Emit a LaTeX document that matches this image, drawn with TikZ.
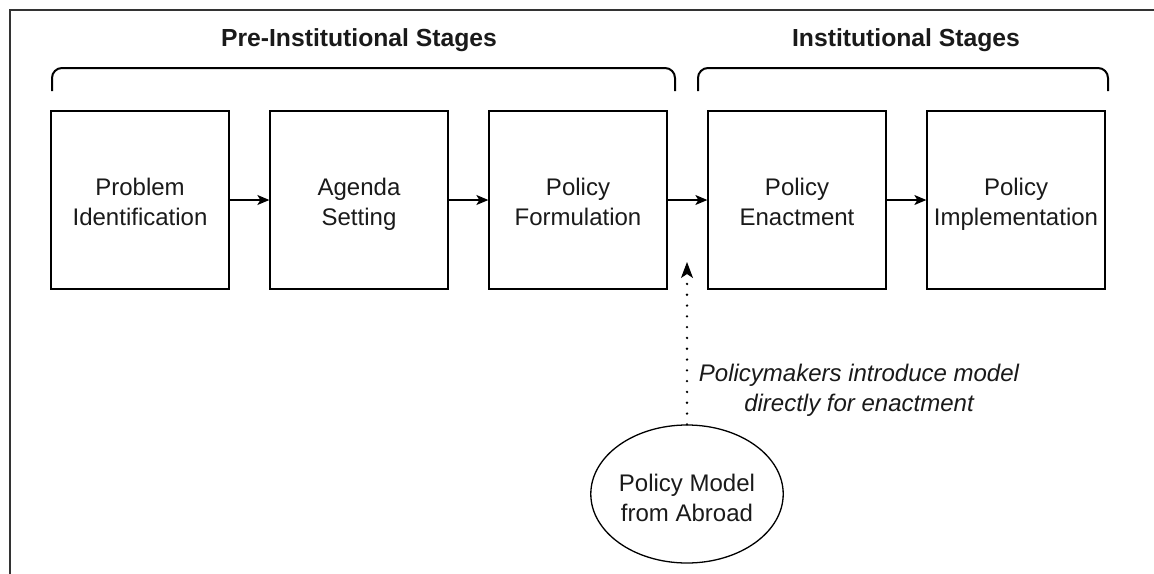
\documentclass[tikz,border=0pt]{standalone}
\usepackage{fontspec}
\setmainfont{Liberation Sans}
\usetikzlibrary{arrows.meta,shapes.geometric}
\definecolor{ink}{HTML}{1A1A1A}
\definecolor{framegray}{HTML}{333333}
% two-line label with a fixed top height (#1) and a fixed descender depth
\newcommand{\twolines}[3]{\rule{0pt}{#1}#2\\#3\vphantom{p}}
\begin{document}
\begin{tikzpicture}[x=1pt,y=-1pt,
  every node/.style={text=ink},
  stagebox/.style={draw=black,line width=1.3pt,minimum width=178pt,minimum height=178pt,
    inner sep=0pt,align=center,font=\fontsize{24}{29.6}\selectfont},
  modelshape/.style={draw=black,line width=1.3pt,ellipse,minimum width=165pt,minimum height=138pt,
    inner sep=0pt,align=center,font=\fontsize{24}{29.6}\selectfont},
  heading/.style={font=\fontsize{24.7}{29}\selectfont\bfseries},
  note/.style={align=center,font=\fontsize{24}{29.6}\selectfont\itshape},
  bracket/.style={draw=black,line width=2pt,rounded corners=10pt},
  flow/.style={draw=black,line width=1.3pt,-{Stealth[length=12pt,width=10pt,inset=3pt]}},
  dotflow/.style={draw=black,line width=2.6pt,line cap=round,dash pattern=on 0pt off 10.8pt,
    -{Stealth[length=16pt,width=12pt,inset=4pt,line cap=butt,line width=1pt]}}]
  \useasboundingbox (0,0) rectangle (1154,573);
  \fill[white] (0,0) rectangle (1154,573);

  % outer frame, open to the right and bottom
  \draw[framegray,line width=2.6pt] (10,580) -- (10,10) -- (1160,10);

  % stage headings and their brackets
  \node[heading] (pre) at (359,40) {Pre-Institutional Stages};
  \node[heading] (inst) at (906,40) {Institutional Stages};
  \draw[bracket] (52,91) -- (52,68) -- (675,68) -- (675,91);
  \draw[bracket] (698,91) -- (698,68) -- (1108,68) -- (1108,91);

  % the five stages
  \node[stagebox] (pid) at (140,200) {\twolines{25.5pt}{Problem}{Identification}};
  \node[stagebox] (ags) at (359,200) {\twolines{25.5pt}{Agenda}{Setting}};
  \node[stagebox] (pfo) at (578,200) {\twolines{25.5pt}{Policy}{Formulation}};
  \node[stagebox] (pen) at (797,200) {\twolines{25.5pt}{Policy}{Enactment}};
  \node[stagebox] (pim) at (1016,200) {\twolines{25.5pt}{Policy}{Implementation}};

  \draw[flow] (pid.east) -- (ags.west);
  \draw[flow] (ags.east) -- (pfo.west);
  \draw[flow] (pfo.east) -- (pen.west);
  \draw[flow] (pen.east) -- (pim.west);

  % external model entering directly at enactment
  \node[modelshape] (pma) at (687,494) {\twolines{30.5pt}{Policy Model}{from Abroad}};
  \coordinate (entry) at (687,262);
  \draw[dotflow] (pma.north) -- (entry);
  \node[note] (why) at (859,390) {\twolines{17pt}{Policymakers introduce model}{directly for enactment}};
\end{tikzpicture}
\end{document}
